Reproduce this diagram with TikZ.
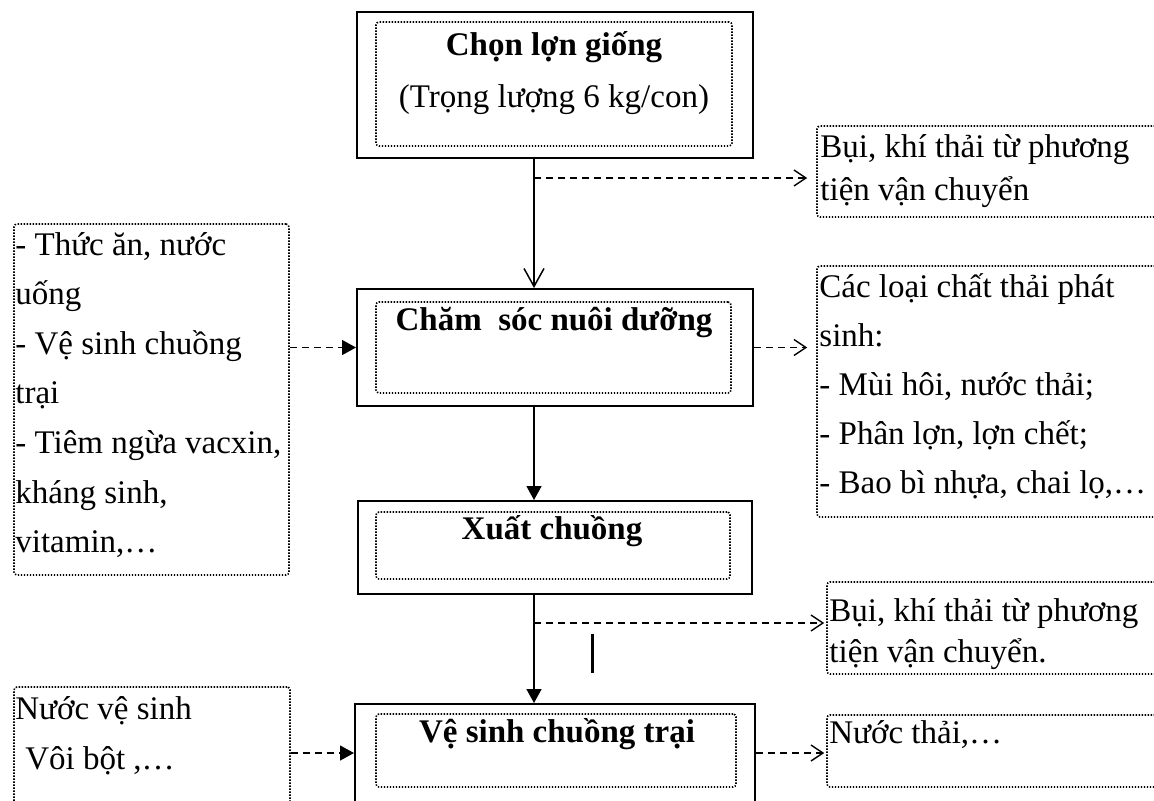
\documentclass[tikz,border=0pt]{standalone}
\usepackage{fontspec}
\setmainfont{Liberation Serif}
\usetikzlibrary{calc,arrows.meta}

\def\pxu{0.5pt}

\tikzset{
mainbox/.style={draw, line width=1pt, inner sep=0pt},
dotbox/.style={draw, line width=0.8pt, dash pattern=on 0.7pt off 0.8pt, rounded corners=1.5pt, inner sep=0pt},
txt/.style={inner sep=0pt, font=\fontsize{16.5pt}{24.5pt}\selectfont},
flow/.style={line width=0.75pt},
dashflow/.style={line width=0.7pt, dash pattern=on 3.5pt off 2.5pt},
bigbarb/.style={-{Straight Barb[length=9pt,width=10pt]}},
barb/.style={-{Straight Barb[length=6pt,width=8pt]}},
tri/.style={-{Triangle[length=7pt,width=7.5pt]}}
}

\begin{document}
\begin{tikzpicture}[x=\pxu, y=-\pxu]
% page frame
\clip (0,0) rectangle (1154,800);

\pgfmathsetmacro{\dx}{-21} % spine offset from box centre

% main process boxes
\foreach \n/\y/\w/\h in {chon/85/396/146, cham/347.5/396/117, xuat/547.5/394/93, vsin/753/400/98}
{
\node[mainbox, minimum width=\w*\pxu, minimum height=\h*\pxu] (\n) at (555,\y) {};
}

% dotted frames inside them
\foreach \n/\x/\y/\w/\h in {chon/554/84/356/124, cham/553.5/347.5/355/91, xuat/553/545.5/354/67, vsin/556/750.5/360/73}
{
\node[dotbox, minimum width=\w*\pxu, minimum height=\h*\pxu] (\n-in) at (\x,\y) {};
}

% box titles
\node[txt, align=center, font=\fontsize{16.5pt}{26pt}\selectfont] (chon-txt) at (554,73) {\textbf{Chọn lợn giống}\\(Trọng lượng 6 kg/con)};
\node[txt] (cham-txt) at (554,322) {\textbf{Chăm~ sóc nuôi dưỡng}};
\node[txt] (xuat-txt) at (552,531) {\textbf{Xuất chuồng}};
\node[txt] (vsin-txt) at (557,734) {\textbf{Vệ sinh chuồng trại}};

% inputs on the left
\node[dotbox, minimum width=275*\pxu, minimum height=351*\pxu] (feed) at (151.5,399.5) {};
\node[dotbox, minimum width=276*\pxu, minimum height=133*\pxu] (wash) at (152,753.5) {};
\node[txt, align=left, anchor=west, font=\fontsize{16.5pt}{24.8pt}\selectfont] (feed-txt) at (15,395)
{- Thức ăn, nước\\uống\\- Vệ sinh chuồng\\trại\\- Tiêm ngừa vacxin,\\kháng sinh,\\vitamin,…};
\node[txt, align=left, anchor=west, font=\fontsize{16.5pt}{25pt}\selectfont] (wash-txt) at (15,736)
{Nước vệ sinh\\\hspace*{0.3em}Vôi bột ,…};

% wastes on the right
\node[dotbox, minimum width=353*\pxu, minimum height=91*\pxu] (bui1) at (993.5,171.5) {};
\node[dotbox, minimum width=353*\pxu, minimum height=251*\pxu] (waste) at (993.5,391.5) {};
\node[dotbox, minimum width=343*\pxu, minimum height=92*\pxu] (bui2) at (998.5,628) {};
\node[dotbox, minimum width=343*\pxu, minimum height=72*\pxu] (thai) at (998.5,751) {};
\node[txt, align=left, anchor=west, font=\fontsize{16.5pt}{21.5pt}\selectfont] (bui1-txt) at (820,171.5)
{Bụi, khí thải từ phương\\tiện vận chuyển};
\node[txt, align=left, anchor=west] (waste-txt) at (819,386)
{Các loại chất thải phát\\sinh:\\- Mùi hôi, nước thải;\\- Phân lợn, lợn chết;\\- Bao bì nhựa, chai lọ,…};
\node[txt, align=left, anchor=west, font=\fontsize{16.5pt}{20.5pt}\selectfont] (bui2-txt) at (829,634)
{Bụi, khí thải từ phương\\tiện vận chuyển.};
\node[txt, anchor=west] (thai-txt) at (829,735) {Nước thải,…};

% main flow
\draw[flow, bigbarb] ($(chon.south)+(\dx,0)$) -- ($(cham.north)+(\dx,0)$);
\draw[flow, tri] ($(cham.south)+(\dx,0)$) -- ($(xuat.north)+(\dx,0)$);
\draw[flow, tri] ($(xuat.south)+(\dx,0)$) -- ($(vsin.north)+(\dx,0)$);

% side arrows
\coordinate (tap1) at ($(chon.south)+(\dx,19)$);
\coordinate (tap2) at ($(xuat.south)+(\dx,28)$);
\draw[dashflow, barb, shorten >=4.5pt] (tap1) -- (tap1 -| bui1.west);
\draw[dashflow, barb, shorten >=4.5pt] (cham.east) -- (cham.east -| waste.west);
\draw[dashflow, barb, shorten >=1pt] (tap2) -- (tap2 -| bui2.west);
\draw[dashflow, barb, shorten >=1pt] (vsin.east) -- (vsin.east -| thai.west);
\draw[dashflow, tri] (cham.west -| feed.east) -- (cham.west);
\draw[dashflow, tri] (vsin.west -| wash.east) -- (vsin.west);

% stray mark
\draw[line width=1.5pt] (592,634) -- (592,673);
\end{tikzpicture}
\end{document}
